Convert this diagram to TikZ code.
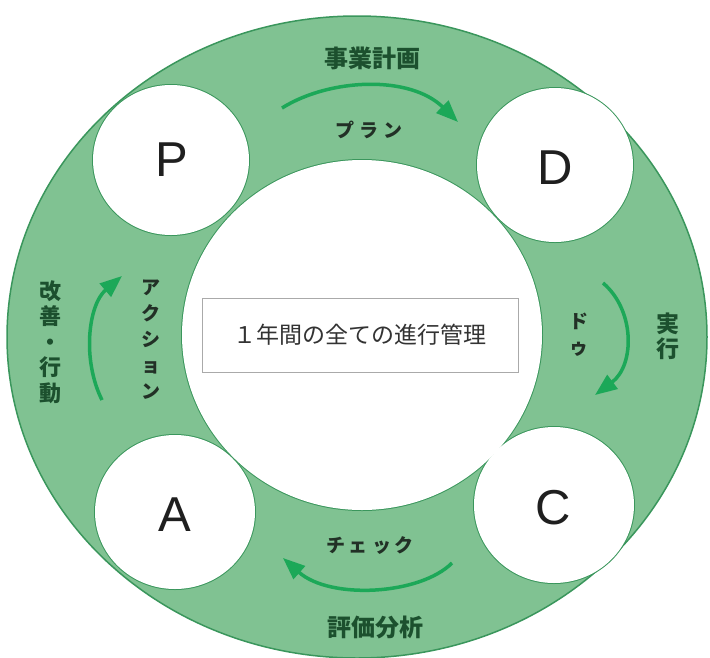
\documentclass[tikz,border=0pt]{standalone}
\usepackage{fontspec}
\setmainfont{Liberation Sans}
\newfontfamily\jp{Noto Sans CJK JP}
\usetikzlibrary{arrows.meta}
\definecolor{ringg}{RGB}{128,194,146}
\definecolor{edgeg}{RGB}{58,150,92}
\definecolor{arrg}{RGB}{28,168,88}
\definecolor{txtg}{RGB}{28,80,46}
\definecolor{kana}{RGB}{34,48,38}
\definecolor{boxgray}{RGB}{170,170,170}
\tikzset{
  letter/.style={font=\fontsize{49}{49}\selectfont, text=black!88, inner sep=0pt},
  kanji/.style={font=\jp\bfseries\fontsize{22}{25.5}\selectfont, text=txtg, align=center, inner sep=0pt},
  wide kanji/.style={kanji, font=\jp\bfseries\fontsize{24}{24}\selectfont},
  katakana/.style={font=\jp\bfseries\fontsize{19}{26}\selectfont, text=kana, align=center, inner sep=0pt},
  cycarrow/.style={draw=arrg, line width=3.5pt, -{Triangle[length=22pt,width=17pt]}},
  goalbox/.style={draw=boxgray, fill=white, line width=1pt, minimum width=316pt, minimum height=74pt,
     font=\jp\fontsize{23}{23}\selectfont, text=black!80}
}
\begin{document}
\begin{tikzpicture}[x=1pt,y=-1pt]
\useasboundingbox (0,0) rectangle (710,657);
% ring
\fill[ringg, draw=edgeg, line width=1.5pt] (357,337) ellipse [x radius=350, y radius=321];
% outlines of the white areas
\begin{scope}[edgeg, line width=2pt]
  \draw (362,335) ellipse [x radius=180, y radius=175];
  \draw (171,160) ellipse [x radius=78, y radius=75];
  \draw (555,165) ellipse [x radius=78, y radius=77];
  \draw (175,512) ellipse [x radius=80, y radius=77];
  \draw (554,505) ellipse [x radius=80, y radius=78];
\end{scope}
\begin{scope}[white]
  \fill (362,335) ellipse [x radius=180, y radius=175];
  \fill (171,160) ellipse [x radius=78, y radius=75];
  \fill (555,165) ellipse [x radius=78, y radius=77];
  \fill (175,512) ellipse [x radius=80, y radius=77];
  \fill (554,505) ellipse [x radius=80, y radius=78];
\end{scope}
% letters
\node[letter] (P) at (172,160) {P};
\node[letter] (D) at (555,168) {D};
\node[letter] (C) at (553,508) {C};
\node[letter] (A) at (175,515) {A};
% centre
\node[goalbox] (goal) at (360,335) {１年間の全ての進行管理};
% labels
\node[wide kanji] (plan) at (372,58) {事業計画};
\node[katakana] (planr) at (369,130) {プ\hspace{5pt}ラ\hspace{5pt}ン};
\node[kanji, font=\jp\bfseries\fontsize{23}{25}\selectfont] (do) at (668,336) {実\\行};
\node[katakana] (dor) at (579,335) {ド\\ゥ};
\node[katakana] (checkr) at (370,545) {チ\hspace{4pt}ェ\hspace{4pt}ッ\hspace{4pt}ク};
\node[wide kanji] (check) at (375,627) {評価分析};
\node[kanji] (act) at (50,342) {改\\善\\・\\行\\動};
\node[katakana] (actr) at (151,340) {ア\\ク\\シ\\ョ\\ン};
% arrows
\coordinate (p1) at (282,108); \coordinate (p2) at (458,122);
\coordinate (d1) at (603,283); \coordinate (d2) at (595,395);
\coordinate (c1) at (452,563); \coordinate (c2) at (283,558);
\coordinate (a1) at (102,400); \coordinate (a2) at (122,276);
\draw[cycarrow] (p1) .. controls (330,78) and (410,75) .. (p2);
\draw[cycarrow] (d1) .. controls (635,310) and (635,365) .. (d2);
\draw[cycarrow] (c1) .. controls (420,595) and (330,600) .. (c2);
\draw[cycarrow] (a1) .. controls (82,360) and (88,305) .. (a2);
\end{tikzpicture}
\end{document}
